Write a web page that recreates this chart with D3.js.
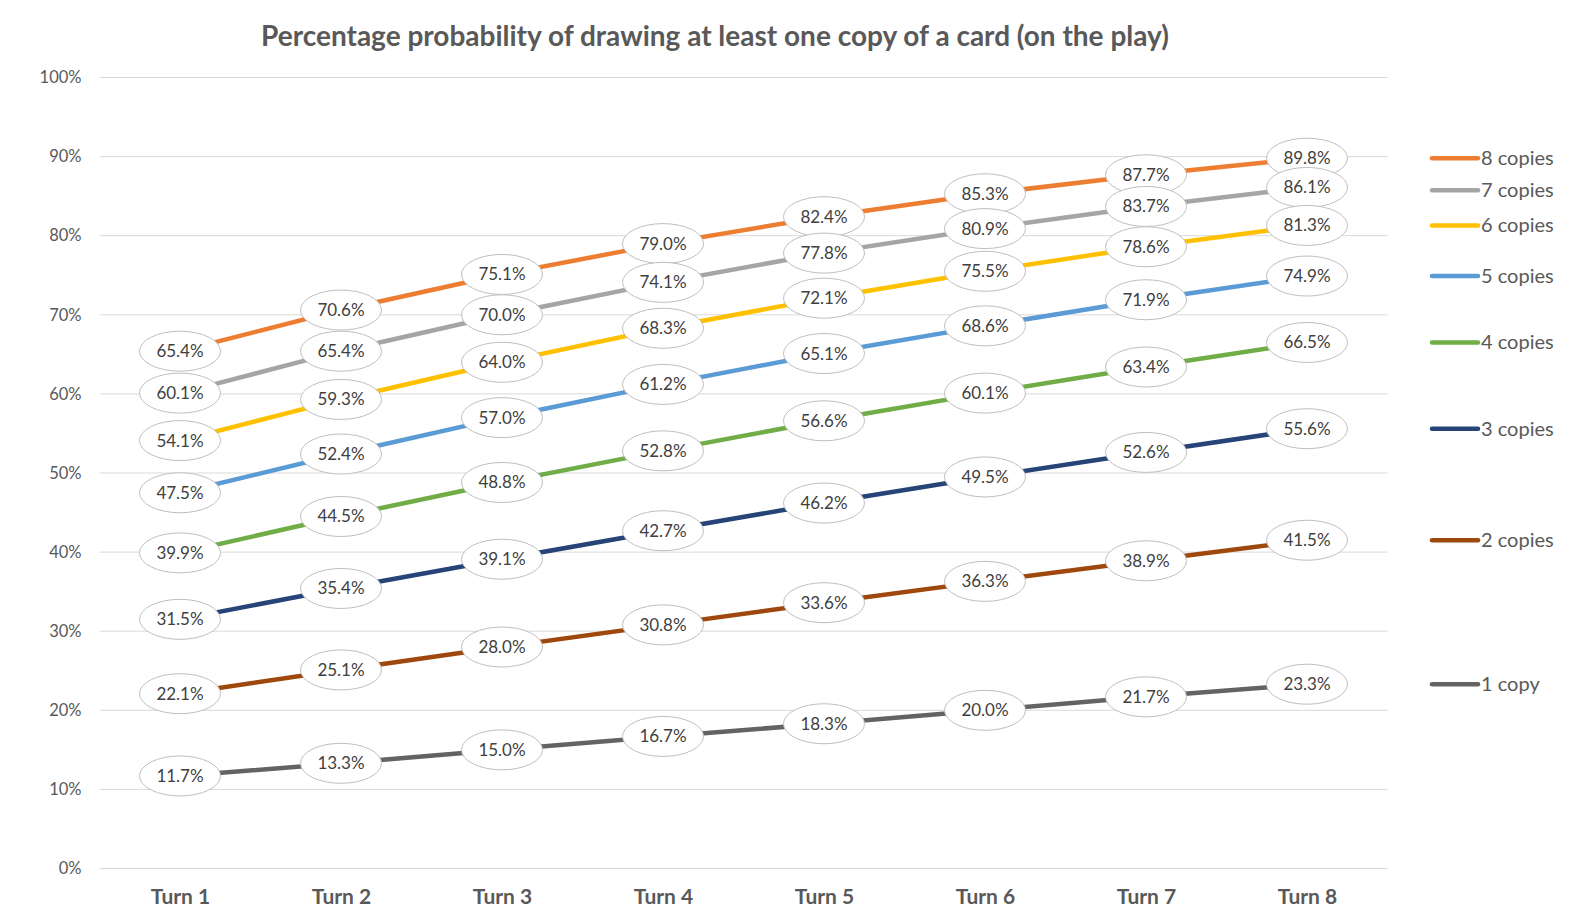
<!DOCTYPE html>
<html>
<head>
<meta charset="utf-8">
<script src="https://cdn.jsdelivr.net/npm/d3@7"></script>
<style>
  body { margin: 0; background: #fff; }
  svg { display: block; font-family: Lato, "Open Sans", sans-serif; }
</style>
</head>
<body>
<div id="chart"></div>
<script>
const turns = ["Turn 1", "Turn 2", "Turn 3", "Turn 4", "Turn 5", "Turn 6", "Turn 7", "Turn 8"];
const seriesNames = ["8 copies", "7 copies", "6 copies", "5 copies", "4 copies", "3 copies", "2 copies", "1 copy"];
const seriesColors = ["#ED7D31", "#A5A5A5", "#FFC000", "#5B9BD5", "#70AD47", "#264478", "#9E480E", "#636363"];
const copies8 = [65.4, 70.6, 75.1, 79.0, 82.4, 85.3, 87.7, 89.8];
const copies7 = [60.1, 65.4, 70.0, 74.1, 77.8, 80.9, 83.7, 86.1];
const copies6 = [54.1, 59.3, 64.0, 68.3, 72.1, 75.5, 78.6, 81.3];
const copies5 = [47.5, 52.4, 57.0, 61.2, 65.1, 68.6, 71.9, 74.9];
const copies4 = [39.9, 44.5, 48.8, 52.8, 56.6, 60.1, 63.4, 66.5];
const copies3 = [31.5, 35.4, 39.1, 42.7, 46.2, 49.5, 52.6, 55.6];
const copies2 = [22.1, 25.1, 28.0, 30.8, 33.6, 36.3, 38.9, 41.5];
const copies1 = [11.7, 13.3, 15.0, 16.7, 18.3, 20.0, 21.7, 23.3];
const yTicks = [0, 10, 20, 30, 40, 50, 60, 70, 80, 90, 100];

const seriesValues = [copies8, copies7, copies6, copies5, copies4, copies3, copies2, copies1];
const series = seriesNames.map((name, i) => ({ name, color: seriesColors[i], values: seriesValues[i] }));

const width = 1577, height = 924;
const plot = { left: 99.5, right: 1387.5, top: 77.5, bottom: 868.5 };

const svg = d3.select('#chart').append('svg')
    .attr('width', width)
    .attr('height', height);

const x = d3.scalePoint()
    .domain(turns)
    .range([plot.left, plot.right])
    .padding(0.5);

const y = d3.scaleLinear()
    .domain([0, 100])
    .range([plot.bottom, plot.top]);

// Title
svg.append('text')
    .attr('x', 715)
    .attr('y', 46)
    .attr('text-anchor', 'middle')
    .style('font-size', '28px')
    .style('font-weight', 'bold')
    .style('fill', '#595959')
    .text('Percentage probability of drawing at least one copy of a card (on the play)');

// Gridlines
svg.append('g')
    .selectAll('line')
    .data(yTicks)
    .join('line')
    .attr('x1', plot.left)
    .attr('x2', plot.right)
    .attr('y1', d => y(d))
    .attr('y2', d => y(d))
    .attr('stroke', '#D9D9D9')
    .attr('stroke-width', 1);

// Y axis labels
const yAxis = svg.append('g')
    .attr('transform', `translate(${plot.left},0)`)
    .call(d3.axisLeft(y).tickValues(yTicks).tickSize(0).tickPadding(18).tickFormat(d => d + '%'));
yAxis.select('.domain').remove();
yAxis.selectAll('text')
    .style('font-family', 'Lato, "Open Sans", sans-serif')
    .style('font-size', '16.5px')
    .style('fill', '#595959');

// X axis labels
const xAxis = svg.append('g')
    .attr('transform', `translate(0,${plot.bottom})`)
    .call(d3.axisBottom(x).tickSize(0).tickPadding(21));
xAxis.select('.domain').remove();
xAxis.selectAll('text')
    .style('font-family', 'Lato, "Open Sans", sans-serif')
    .style('font-size', '21px')
    .style('font-weight', 'bold')
    .style('fill', '#595959');

// Lines
const line = d3.line()
    .x((d, i) => x(turns[i]))
    .y(d => y(d));

svg.append('g')
    .selectAll('path')
    .data(series)
    .join('path')
    .attr('fill', 'none')
    .attr('stroke', d => d.color)
    .attr('stroke-width', 4.5)
    .attr('d', d => line(d.values));

// Data labels (ellipses on top of the lines)
const labels = svg.append('g')
    .selectAll('g')
    .data(series.flatMap(s => s.values.map((v, i) => ({ v, turn: turns[i] }))))
    .join('g')
    .attr('transform', d => `translate(${x(d.turn)},${y(d.v)})`);

labels.append('ellipse')
    .attr('rx', 40.5)
    .attr('ry', 20)
    .attr('fill', '#fff')
    .attr('stroke', '#BFBFBF')
    .attr('stroke-width', 1);

labels.append('text')
    .attr('text-anchor', 'middle')
    .attr('dy', '0.35em')
    .style('font-size', '17px')
    .style('fill', '#404040')
    .text(d => d.v.toFixed(1) + '%');

// Legend, placed next to each series' last value
let prevY = -Infinity;
const legendPos = series.map(s => {
    const ly = Math.max(y(s.values[s.values.length - 1]), prevY + 32);
    prevY = ly;
    return ly;
});

const legend = svg.append('g')
    .selectAll('g')
    .data(series)
    .join('g')
    .attr('transform', (d, i) => `translate(1432,${legendPos[i]})`);

legend.append('line')
    .attr('x1', 0)
    .attr('x2', 46)
    .attr('stroke', d => d.color)
    .attr('stroke-width', 4.5)
    .attr('stroke-linecap', 'round');

legend.append('text')
    .attr('x', 49)
    .attr('dy', '0.35em')
    .style('font-size', '20px')
    .style('fill', '#595959')
    .text(d => d.name);
</script>
</body>
</html>
